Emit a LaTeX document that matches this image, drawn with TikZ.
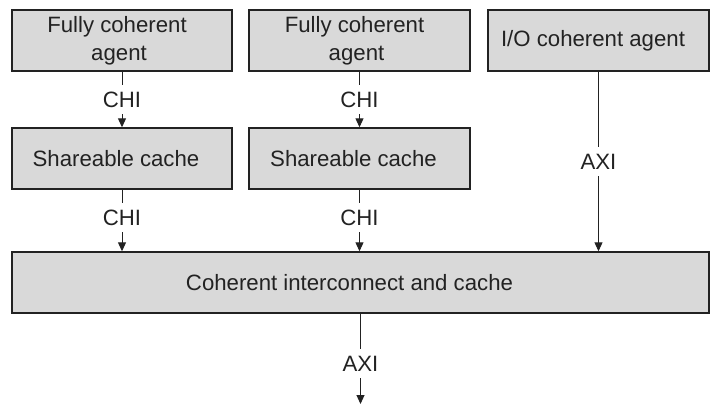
\documentclass[tikz,border=0pt]{standalone}
\usepackage{fontspec}
\setmainfont{Liberation Sans}
\usetikzlibrary{arrows.meta}
\definecolor{boxfill}{HTML}{D9D9D9}
\definecolor{ink}{HTML}{222222}
\begin{document}
\begin{tikzpicture}[x=1pt,y=-1pt,
  blk/.style={draw=ink,line width=1.4pt,fill=boxfill,text=ink,font=\fontsize{22.2}{28}\selectfont,align=center,inner sep=0pt},
  conn/.style={draw=ink,line width=1pt,-{Triangle[length=9pt,width=8pt]}},
  lbl/.style={fill=white,text=ink,font=\fontsize{22.2}{26}\selectfont,inner xsep=2pt,inner ysep=7pt}]
\useasboundingbox (0,0) rectangle (715,405);
\node[blk,minimum width=220pt,minimum height=61pt] (a1) at (122,40.5) {Fully coherent\kern10pt\\agent\kern6pt};
\node[blk,minimum width=221pt,minimum height=61pt] (a2) at (359.5,40.5) {Fully coherent\kern10pt\\agent\kern6pt};
\node[blk,minimum width=221pt,minimum height=61pt] (a3) at (598.5,40.5) {I/O coherent agent\kern11pt};
\node[blk,minimum width=220pt,minimum height=61pt] (c1) at (122,158.5) {Shareable cache\kern12pt};
\node[blk,minimum width=221pt,minimum height=61pt] (c2) at (359.5,158.5) {Shareable cache\kern12pt};
\node[blk,minimum width=697pt,minimum height=61pt] (ic) at (360.5,282.5) {Coherent interconnect and cache\kern22pt};
\coordinate (out) at (360.5,404);
\draw[conn] (a1) -- node[lbl] (l1) {CHI} (c1);
\draw[conn] (a2) -- node[lbl] (l2) {CHI} (c2);
\draw[conn] (c1) -- node[lbl,pos=0.45] (l3) {CHI} (c1 |- ic.north);
\draw[conn] (c2) -- node[lbl,pos=0.45] (l4) {CHI} (c2 |- ic.north);
\draw[conn] (a3) -- node[lbl] (l5) {AXI} (a3 |- ic.north);
\draw[conn] (ic) -- node[lbl,pos=0.55] (l6) {AXI} (out);
\end{tikzpicture}
\end{document}
